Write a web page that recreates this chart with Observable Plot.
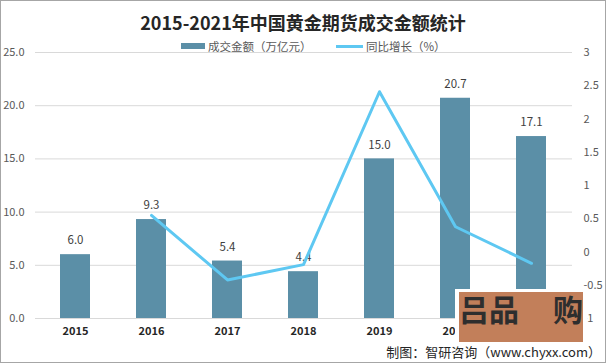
<!DOCTYPE html>
<html><head><meta charset="utf-8">
<script src="https://cdn.jsdelivr.net/npm/d3@7"></script>
<script src="https://cdn.jsdelivr.net/npm/@observablehq/plot@0.6"></script>
<style>
body{margin:0;background:#fff;}
#wrap{position:relative;width:606px;height:364px;overflow:hidden;font-family:"Noto Sans CJK SC","Noto Sans",sans-serif;}
#chart{position:absolute;left:0;top:0;}
.frame{position:absolute;left:0;top:0;width:606px;height:363px;box-sizing:border-box;border:1px solid #a6a6a6;pointer-events:none;}
.title{position:absolute;left:0;width:606px;top:10px;text-align:center;font-size:18px;font-weight:bold;color:#262626;line-height:24px;}
.leg{position:absolute;top:38px;font-size:11.5px;color:#595959;line-height:16px;white-space:nowrap;}
.sw{position:absolute;}
.caption{position:absolute;right:5px;top:343px;font-size:13px;color:#262626;line-height:18px;white-space:nowrap;}
.box{position:absolute;left:455px;top:289px;width:132px;height:56px;background:#fff;}
.box .in{position:absolute;left:4px;top:3px;width:124px;height:50px;background:#c27f5a;}
.box span{position:absolute;top:-4px;font-size:30px;font-weight:700;color:#2e2e2e;line-height:40px;}
</style></head><body>
<div id="wrap">
  <div id="chart"></div>
  <div class="title">2015-2021年中国黄金期货成交金额统计</div>
  <div class="sw" style="left:181px;top:43px;width:24px;height:6px;background:#5b8fa7;"></div>
  <div class="leg" style="left:208px;">成交金额（万亿元）</div>
  <div class="sw" style="left:336px;top:45px;width:27px;height:3px;background:#5ec8f2;"></div>
  <div class="leg" style="left:366px;">同比增长（%）</div>
  <div class="box"><div class="in"><span style="left:0px;">吕品</span><span style="left:94px;">购</span></div></div>
  <div class="caption">制图：智研咨询（www.chyxx.com）</div>
  <div class="frame"></div>
</div>
<script>
const years = ["2015","2016","2017","2018","2019","2020","2021"];
const amount = [6.0, 9.3, 5.4, 4.4, 15.0, 20.7, 17.1];
const growth = [null, 0.55, -0.42, -0.19, 2.41, 0.38, -0.17];
const leftTicks = [0, 5, 10, 15, 20, 25];
const rightTicks = [-1, -0.5, 0, 0.5, 1, 1.5, 2, 2.5, 3];

const toLeft = d3.scaleLinear().domain([-1, 3]).range([0, 25]);
const bars = years.map((y, i) => ({year: y, amount: amount[i]}));
const line = years.map((y, i) => ({year: y, g: growth[i]})).filter(d => d.g != null);

const chart = Plot.plot({
  width: 606, height: 364,
  marginTop: 52, marginBottom: 46, marginLeft: 35, marginRight: 34,
  style: {fontFamily: '"Noto Sans CJK SC","Noto Sans",sans-serif', background: "transparent", overflow: "visible"},
  x: {domain: years, paddingInner: 0.6, paddingOuter: 0.3, label: null},
  y: {domain: [0, 25], label: null},
  marks: [
    Plot.gridY(leftTicks, {stroke: "#d9d9d9", strokeOpacity: 1, strokeWidth: 1}),
    Plot.barY(bars, {x: "year", y: "amount", fill: "#5b8fa7"}),
    Plot.text(bars, {x: "year", y: "amount", text: d => d.amount.toFixed(1), dy: -14, fill: "#404040", fontSize: 11.5}),
    Plot.line(line, {x: "year", y: d => toLeft(d.g), stroke: "#5ec8f2", strokeWidth: 3, strokeLinejoin: "round"}),
    Plot.axisX({tickSize: 0, tickPadding: 9, fontSize: 11, fontWeight: "bold", fill: "#262626", label: null}),
    Plot.axisY(leftTicks, {anchor: "left", tickSize: 0, tickPadding: 11, tickFormat: d3.format(".1f"), fontSize: 11, fill: "#595959", label: null}),
    Plot.axisY(rightTicks.map(toLeft), {anchor: "right", tickSize: 0, tickPadding: 11,
      tickFormat: v => String(Math.round(toLeft.invert(v) * 10) / 10), fontSize: 11, fill: "#595959", label: null})
  ]
});
document.getElementById("chart").appendChild(chart);
</script>
</body></html>
